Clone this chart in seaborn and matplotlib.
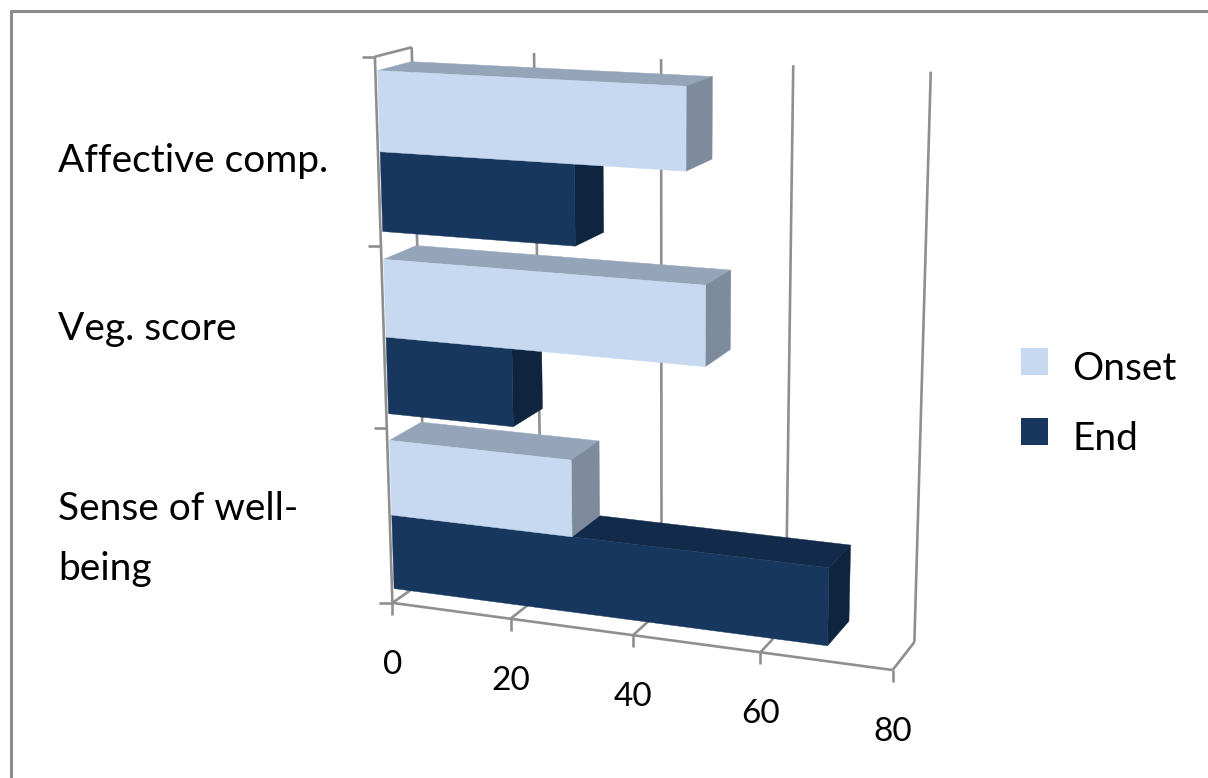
import numpy as np
import pandas as pd
import matplotlib
matplotlib.use('Agg')
import matplotlib.pyplot as plt
from matplotlib.patches import Polygon, Patch
import seaborn as sns

categories = ['Affective comp.', 'Veg. score', 'Sense of well-\nbeing']
onset = [48, 51, 30]
end = [31, 20.7, 70]
series_names = ['Onset', 'End']
value_ticks = [0, 20, 40, 60, 80]

front_colors = {'Onset': '#C6D9F1', 'End': '#17375E'}
top_colors = {'Onset': '#95A5B9', 'End': '#132B4B'}
side_colors = {'Onset': '#7E8B9C', 'End': '#0F243E'}
line_color = '#8F8F8F'

sns.set_theme(style='white')
plt.rcParams['font.family'] = ['Lato', 'DejaVu Sans']

# where the corners of the chart box land in the picture (value, height, depth -> pixel)
box_refs = [
    (0, 0, 0, 391, 602), (20, 0, 0, 510, 618), (40, 0, 0, 633, 635),
    (60, 0, 0, 762, 653), (80, 0, 0, 893, 670),
    (0, 0, 1, 428, 580), (80, 0, 1, 913, 642),
    (0, 1, 1, 411.7, 47), (20, 1, 1, 534, 52), (40, 1, 1, 661, 59),
    (60, 1, 1, 793, 65), (80, 1, 1, 931, 72),
    (0, 1, 0, 375, 58),
]


def fit_camera(refs):
    rows, rhs = [], []
    for v, h, d, px, py in refs:
        v = v / 80
        rows.append([v, h, d, 1, 0, 0, 0, 0, -px * v, -px * h, -px * d])
        rhs.append(px)
        rows.append([0, 0, 0, 0, v, h, d, 1, -py * v, -py * h, -py * d])
        rhs.append(py)
    sol = np.linalg.lstsq(np.array(rows, float), np.array(rhs, float), rcond=None)[0]
    return np.append(sol, 1).reshape(3, 4)


camera = fit_camera(box_refs)


def project(v, h, d):
    p = camera @ np.array([v / 80, h, d, 1.0])
    return p[0] / p[2], p[1] / p[2]


fig = plt.figure(figsize=(12.08, 7.78), dpi=100)

# seaborn works out the bars, they get projected onto the 3d box afterwards
df = pd.DataFrame({
    'category': categories * 2,
    'series': ['Onset'] * 3 + ['End'] * 3,
    'value': onset + end,
})
src = fig.add_axes([0, 0, 1, 1])
sns.barplot(data=df, x='value', y='category', hue='series', hue_order=series_names,
            orient='h', width=0.85, gap=0, legend=False, ax=src)
src.set_xlim(0, 80)
src.set_ylim(2.5, -0.5)
src.set_visible(False)

canvas = fig.add_axes([0, 0, 1, 1])
canvas.set_xlim(0, 1208)
canvas.set_ylim(778, 0)
canvas.axis('off')


def seg(p0, p1, lw=1.9, z=1):
    canvas.plot([p0[0], p1[0]], [p0[1], p1[1]], color=line_color, lw=lw, zorder=z,
                solid_capstyle='butt')


# chart frame, only top and left show in the crop
canvas.plot([10.5, 10.5, 1208], [778, 11, 11], color='#8C8C8C', lw=2.2, zorder=1)

# walls and floor
for v in value_ticks:
    seg(project(v, 0, 1), project(v, 1, 1))
    seg(project(v, 0, 0), project(v, 0, 1))
    x, y = project(v, 0, 0)
    seg((x, y), (x, y + 12))
    canvas.text(x, y + 62, str(v), ha='center', va='center', fontsize=24, color='black')
seg(project(0, 0, 0), project(80, 0, 0))
seg(project(0, 0, 0), project(0, 1, 0))
seg(project(0, 1, 0), project(0, 1, 1))
for i in range(4):
    x, y = project(0, i / 3, 0)
    seg((x, y), (x - 13, y))

# bars, lowest first so the upper ones sit on top of them
bars = []
for name, container in zip(series_names, src.containers):
    for rect in container:
        bars.append((rect.get_y() + rect.get_height(), name, rect))
bars.sort(key=lambda b: -b[0])

d0, d1 = 0.06, 0.97
z = 5
for _, name, rect in bars:
    w = rect.get_width()
    h_lo = (2.5 - (rect.get_y() + rect.get_height())) / 3
    h_hi = (2.5 - rect.get_y()) / 3
    top = [project(0, h_hi, d0), project(w, h_hi, d0), project(w, h_hi, d1), project(0, h_hi, d1)]
    side = [project(w, h_lo, d0), project(w, h_hi, d0), project(w, h_hi, d1), project(w, h_lo, d1)]
    front = [project(0, h_lo, d0), project(w, h_lo, d0), project(w, h_hi, d0), project(0, h_hi, d0)]
    for pts, col in ((top, top_colors[name]), (side, side_colors[name]), (front, front_colors[name])):
        canvas.add_patch(Polygon(pts, closed=True, facecolor=col, edgecolor=col, lw=0.3, zorder=z))
        z += 1

# category labels
for label, y in zip(categories, [161, 329, 539]):
    canvas.text(58, y, label, ha='left', va='center', fontsize=28, color='black',
                linespacing=1.82, zorder=50)

handles = [Patch(facecolor=front_colors[n], edgecolor='none') for n in series_names]
leg = canvas.legend(handles, series_names, loc='center left', bbox_to_anchor=(1021, 399),
                    bbox_transform=canvas.transData, frameon=False, fontsize=28,
                    labelcolor='black', handlelength=0.7, handleheight=0.7, handletextpad=0.62,
                    labelspacing=0.88, borderpad=0, borderaxespad=0)
for t in leg.get_texts():
    t.set_y(-5)

fig.savefig('out.png', dpi=100)
